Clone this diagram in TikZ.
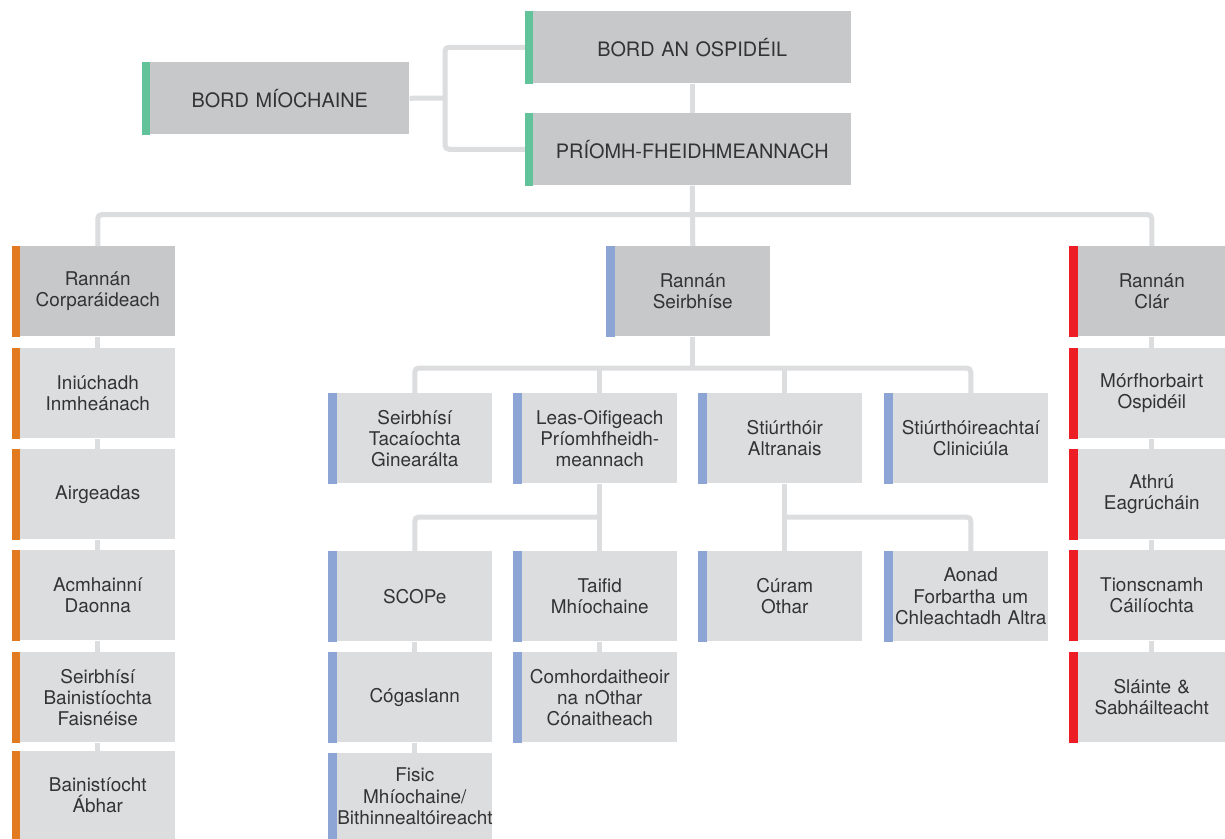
\documentclass[tikz,border=0pt]{standalone}
\usepackage{fontspec}
\setmainfont{TeX Gyre Heros}
\usepackage{tikz}
\usetikzlibrary{calc}
\definecolor{unitgrey}{HTML}{DCDDDF}
\definecolor{headgrey}{HTML}{C7C8CA}
\definecolor{linkgrey}{HTML}{DCDDDF}
\definecolor{txtgrey}{HTML}{333333}
\definecolor{bordgreen}{HTML}{62C39B}
\definecolor{corporange}{HTML}{E27B1F}
\definecolor{seirbblue}{HTML}{8DA5D5}
\definecolor{clarred}{HTML}{EC1D25}

\tikzset{
  unit/.style={rectangle, anchor=north west, inner sep=0pt, fill=unitgrey, text=txtgrey,
    align=center, font=\fontsize{14.2}{15.8}\selectfont,
    minimum height=67.5pt, minimum width=116.25pt, text width=116.25pt},
  head/.style={unit, fill=headgrey},
  narrow/.style={minimum width=110.25pt, text width=110.25pt},
  top/.style={head, minimum height=54pt, font=\fontsize{14.9}{16}\selectfont},
  link/.style={draw=linkgrey, line width=3.75pt, rounded corners=3pt},
}

\begin{document}
\begin{tikzpicture}[x=0.75pt,y=-0.75pt]
  \useasboundingbox[fill=white] (0,0) rectangle (1225,839);

  % boird
  \node[top, minimum width=194.25pt, text width=190pt] (mioch) at (150,62) {BORD MÍOCHAINE};
  \node[top, minimum width=238.5pt, text width=234pt] (ospid) at (533,11) {BORD AN OSPIDÉIL};
  \node[top, minimum width=238.5pt, text width=234pt] (priomh) at (533,113) {PRÍOMH-FHEIDHMEANNACH};

  % rannan corparaideach
  \node[head] (corp) at (20,246) {Rannán\\Corparáideach};
  \node[unit] (iniu) at (20,348) {Iniúchadh\\Inmheánach};
  \node[unit] (airg) at (20,449) {Airgeadas};
  \node[unit] (acmh) at (20,550) {Acmhainní\\Daonna};
  \node[unit] (faisn) at (20,652) {Seirbhísí\\Bainistíochta\\Faisnéise};
  \node[unit, minimum height=66pt] (abhar) at (20,751) {Bainistíocht\\Ábhar};

  % rannan seirbhise
  \node[head] (seirb) at (615,246) {Rannán\\Seirbhíse};
  \node[unit] (tacai) at (337,393) {Seirbhísí\\Tacaíochta\\Ginearálta};
  \node[unit] (leas) at (522,393) {Leas-Oifigeach\\Príomhfheidh-\\meannach};
  \node[unit] (altr) at (707,393) {Stiúrthóir\\Altranais};
  \node[unit] (clin) at (893,393) {Stiúrthóireachtaí\\Cliniciúla};
  \node[unit] (scope) at (337,551) {SCOPe};
  \node[unit] (taifid) at (522,551) {Taifid\\Mhíochaine};
  \node[unit] (curam) at (707,551) {Cúram\\Othar};
  \node[unit] (aonad) at (893,551) {Aonad\\Forbartha um\\Chleachtadh Altra};
  \node[unit] (cogas) at (337,652) {Cógaslann};
  \node[unit] (comh) at (522,652) {Comhordaitheoir\\na nOthar\\Cónaitheach};
  \node[unit, minimum height=64.5pt] (fisic) at (337,753) {Fisic\\Mhíochaine/\\Bithinnealtóireacht};

  % rannan clar
  \node[head, narrow] (clar) at (1078,246) {Rannán\\Clár};
  \node[unit, narrow] (morf) at (1078,348) {Mórfhorbairt\\Ospidéil};
  \node[unit, narrow] (athru) at (1078,449) {Athrú\\Eagrúcháin};
  \node[unit, narrow] (tionsc) at (1078,550) {Tionscnamh\\Cáilíochta};
  \node[unit, narrow] (slainte) at (1078,652) {Sláinte \&\\Sabháilteacht};

  % links
  \coordinate (jn) at (445,98);
  \draw[link] (ospid.west) -| (jn) |- (priomh.west);
  \draw[link] (mioch.east) -- (jn);
  \draw[link] (ospid.south) -- (priomh.north);
  \draw[link] (priomh.south) -- (seirb.north);
  \draw[link] (corp.north) |- ($(priomh.south)!.48!(seirb.north)$) -| (clar.north);

  \coordinate (bus2) at (0,368);
  \draw[link] (seirb.south) -- (seirb.south |- bus2);
  \draw[link] (tacai.north) |- (bus2 -| seirb.south) -| (clin.north);
  \foreach \n in {leas,altr}
    \draw[link] (\n.north) -- (\n.north |- bus2);

  \coordinate (bus3) at (0,517);
  \draw[link] (leas.south) -- (taifid.north);
  \draw[link] (scope.north) |- (bus3 -| taifid.north);
  \draw[link] (altr.south) -- (curam.north);
  \draw[link] (aonad.north) |- (bus3 -| curam.north);

  \draw[link] (corp) -- (iniu) -- (airg) -- (acmh) -- (faisn) -- (abhar);
  \draw[link] (scope) -- (cogas) -- (fisic);
  \draw[link] (taifid) -- (comh);
  \draw[link] (clar) -- (morf) -- (athru) -- (tionsc) -- (slainte);

  % stripes
  \foreach \n in {mioch,ospid,priomh}
    \fill[bordgreen] (\n.north west) rectangle ([xshift=-6pt]\n.south west);
  \foreach \n in {corp,iniu,airg,acmh,faisn,abhar}
    \fill[corporange] (\n.north west) rectangle ([xshift=-6pt]\n.south west);
  \foreach \n in {seirb,tacai,leas,altr,clin,scope,taifid,curam,aonad,cogas,comh,fisic}
    \fill[seirbblue] (\n.north west) rectangle ([xshift=-6.5pt]\n.south west);
  \foreach \n in {clar,morf,athru,tionsc,slainte}
    \fill[clarred] (\n.north west) rectangle ([xshift=-6.5pt]\n.south west);
\end{tikzpicture}
\end{document}
